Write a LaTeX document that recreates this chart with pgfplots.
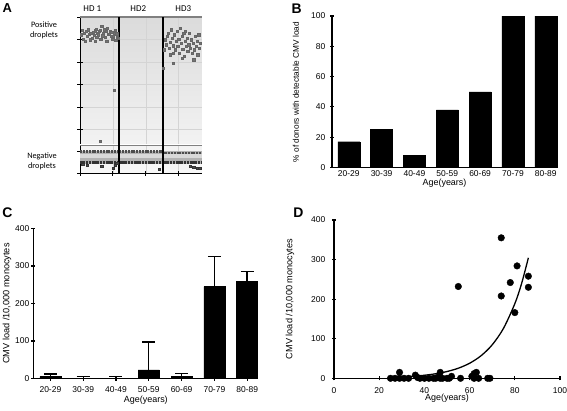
\documentclass[border=0pt]{standalone}
\usepackage{pgfplots}
\pgfplotsset{compat=1.18}
\usepackage{fontspec}
\setmainfont{Liberation Sans}
\newfontfamily\calib{Carlito}
\pgfplotsset{
  gp/.style={
    scale only axis, axis x line=bottom, axis y line=left,
    x axis line style={-, line width=1.4pt, black},
    y axis line style={-, line width=1.4pt, black},
    xticklabels={}, yticklabels={},
    major tick length=4bp, major tick style={line width=1.2pt, black},
    clip=false,
  },
}
\begin{document}
\begin{tikzpicture}
\useasboundingbox (0,0) rectangle (567bp,-411bp);
% ---------------- Panel A ----------------
\begin{axis}[at={(80bp,-173bp)}, anchor=south west, scale only axis,
  width=122bp, height=156bp, xmin=240, xmax=605, ymin=-520, ymax=-52,
  axis x line=bottom, axis y line=left,
  x axis line style={-, line width=0.8pt, black},
  y axis line style={-, line width=0.8pt, black},
  xtick={240,338,437,535}, ytick={-520,-455,-388,-322,-255,-187,-120,-52},
  xticklabels={}, yticklabels={},
  major tick length=5bp, major tick style={line width=0.8pt, black},
  grid=major, grid style={black!17, line width=0.5pt},
  axis background/.style={top color=black!14, bottom color=black!3},
  clip=false]
\addplot[black!50, line width=2bp] coordinates {(240,-52) (605,-52)};
\addplot[fill=black!30, draw=none] coordinates {(240,-455) (605,-455) (605,-492) (240,-492)} -- cycle;
\addplot[fill=black!15, draw=none] coordinates {(240,-462) (605,-462) (605,-475) (240,-475)} -- cycle;
\addplot[black!70, line width=2.4bp, dash pattern=on 2bp off 0.8bp] coordinates {(241,-456) (358,-456)};
\addplot[black!70, line width=2.4bp, dash pattern=on 2bp off 0.8bp] coordinates {(358,-455) (487,-455)};
\addplot[black!70, line width=2.4bp, dash pattern=on 2bp off 0.8bp] coordinates {(487,-460) (603,-460)};
\addplot[black!80, line width=2.6bp, dash pattern=on 2.2bp off 0.6bp] coordinates {(241,-488) (603,-488)};
\addplot[black!50, line width=2bp] coordinates {(240,-435) (605,-435)};
\addplot[white, line width=0.5bp] coordinates {(240,-435) (605,-435)};
\addplot[only marks, mark=square*, mark size=1.1bp, draw=black!60, fill=black!55] coordinates {
(246,-92) (250,-118) (253,-100) (258,-95) (262,-110) (265,-90) (268,-104) (272,-100)
(276,-115) (280,-97) (283,-106) (286,-93) (288,-88) (290,-112) (293,-100) (295,-105)
(298,-95) (300,-92) (302,-118) (305,-80) (308,-108) (310,-100) (313,-90) (316,-112)
(318,-95) (320,-125) (322,-86) (325,-103) (328,-104) (330,-94) (333,-110) (335,-98)
(338,-118) (340,-110) (342,-100) (345,-92) (347,-122) (350,-102) (352,-112) (354,-115)
(255,-125) (285,-125) (244,-105) (270,-120) (342,-272) (300,-425)
(492,-150) (495,-120) (498,-135) (502,-110) (505,-100) (508,-145) (510,-128) (513,-90)
(515,-115) (518,-160) (520,-138) (522,-105) (525,-150) (527,-125) (530,-95) (532,-140)
(535,-118) (537,-160) (540,-85) (542,-130) (545,-110) (547,-148) (550,-100) (552,-170)
(555,-125) (557,-140) (560,-115) (562,-155) (565,-135) (567,-100) (570,-145) (572,-120)
(575,-160) (578,-130) (580,-180) (582,-150) (585,-110) (587,-140) (590,-125) (592,-165)
(595,-105) (597,-145) (600,-130) (520,-190) (545,-175) (490,-205) (510,-165) (555,-95)
};
\addplot[only marks, mark=square*, mark size=1.1bp, draw=black!80, fill=black!70] coordinates {
(248,-493) (262,-496) (305,-500) (340,-505) (345,-496) (350,-490) (476,-508)
(570,-500) (580,-503) (590,-505) (598,-505)
};
\addplot[black, line width=2bp] coordinates {(358,-52) (358,-520)};
\addplot[black, line width=2bp] coordinates {(487,-52) (487,-520)};
\end{axis}
\node[font=\calib\fontsize{9}{10}\selectfont] at (92.3bp,-8.3bp) {HD 1};
\node[font=\calib\fontsize{9}{10}\selectfont] at (138.3bp,-8.3bp) {HD2};
\node[font=\calib\fontsize{9}{10}\selectfont] at (183.3bp,-8.3bp) {HD3};
\node[font=\calib\fontsize{8.3}{10.5}\selectfont, align=center] at (44bp,-30.5bp) {Positive\\droplets};
\node[font=\calib\fontsize{8.3}{10.5}\selectfont, align=center] at (42bp,-161.5bp) {Negative\\droplets};
\node[font=\fontsize{13}{14}\bfseries\selectfont] at (7.2bp,-8.5bp) {A};
% ---------------- Panel B ----------------
\begin{axis}[gp, at={(332bp,-167.5bp)}, anchor=south west,
  width=225bp, height=151.5bp, xmin=-0.51, xmax=6.34, ymin=0, ymax=100,
  xtick=\empty, ytick={0,20,40,60,80,100}]
\addplot[ybar, bar width=22bp, fill=black, draw=black] coordinates {(0,17) (1,25) (2,8) (3,38) (4,50) (5,100) (6,100)};
\end{axis}
\begin{scope}[every node/.style={font=\fontsize{8.5}{10}\selectfont, inner sep=0pt}]
\node at (348.8bp,-174bp) {20-29};
\node at (381.6bp,-174bp) {30-39};
\node at (414.4bp,-174bp) {40-49};
\node at (447.3bp,-174bp) {50-59};
\node at (480.1bp,-174bp) {60-69};
\node at (513.0bp,-174bp) {70-79};
\node at (545.8bp,-174bp) {80-89};
\node[anchor=east] at (325.5bp,-167.5bp) {0};
\node[anchor=east] at (325.5bp,-137.2bp) {20};
\node[anchor=east] at (325.5bp,-106.9bp) {40};
\node[anchor=east] at (325.5bp,-76.6bp) {60};
\node[anchor=east] at (325.5bp,-46.3bp) {80};
\node[anchor=east] at (325.5bp,-16bp) {100};
\node[font=\fontsize{9}{10}\selectfont] at (444.5bp,-183.5bp) {Age(years)};
\node[font=\fontsize{8.3}{10}\selectfont, rotate=90] at (296bp,-92bp) {\% of donors with detectable CMV load};
\end{scope}
\node[font=\fontsize{14}{14}\bfseries\selectfont] at (296.7bp,-9bp) {B};
% ---------------- Panel C ----------------
\begin{axis}[gp, at={(33.3bp,-378.5bp)}, anchor=south west,
  width=225bp, height=150bp, xmin=-0.52, xmax=6.34, ymin=0, ymax=400,
  xtick={0,1,2,3,4,5,6}, ytick={0,100,200,300,400}]
\addplot[ybar, bar width=21bp, fill=black, draw=black,
  error bars/.cd, y dir=plus, y explicit,
  error bar style={line width=1.3pt, black},
  error mark options={rotate=90, mark size=6.5bp, line width=1.3pt, black}]
  coordinates {(0,5) +- (0,7) (1,1) +- (0,5) (2,1) +- (0,5) (3,23) +- (0,74)
               (4,5) +- (0,8) (5,245) +- (0,80) (6,260) +- (0,25)};
\end{axis}
\begin{scope}[every node/.style={font=\fontsize{8.5}{10}\selectfont, inner sep=0pt}]
\node at (50.4bp,-390bp) {20-29};
\node at (83.2bp,-390bp) {30-39};
\node at (116.0bp,-390bp) {40-49};
\node at (148.8bp,-390bp) {50-59};
\node at (181.6bp,-390bp) {60-69};
\node at (214.4bp,-390bp) {70-79};
\node at (247.2bp,-390bp) {80-89};
\node[anchor=east] at (29.5bp,-378.5bp) {0};
\node[anchor=east] at (29.5bp,-341bp) {100};
\node[anchor=east] at (29.5bp,-303.5bp) {200};
\node[anchor=east] at (29.5bp,-266bp) {300};
\node[anchor=east] at (29.5bp,-228.5bp) {400};
\node[font=\fontsize{9}{10}\selectfont] at (145.8bp,-400bp) {Age(years)};
\node[font=\fontsize{9.2}{10}\selectfont, rotate=90] at (7bp,-303.5bp) {CMV load /10,000 monocytes};
\end{scope}
\node[font=\fontsize{14}{14}\bfseries\selectfont] at (7.5bp,-212.2bp) {C};
% ---------------- Panel D ----------------
\begin{axis}[gp, at={(334bp,-378.3bp)}, anchor=south west,
  width=226bp, height=158.3bp, xmin=0, xmax=100, ymin=0, ymax=400,
  xtick={0,20,40,60,80,100}, ytick={0,100,200,300,400}]
\addplot[only marks, mark=*, mark size=3.3bp, black] coordinates {
(74,355) (55,232) (74,208) (78,242) (80,166) (81,284) (86,258) (86,230)
(25,0) (27,0) (29,15) (29,0) (31,0) (33,0) (36,8) (37,2) (38,0) (40,0) (42,0)
(44,0) (45,0) (46,3) (47,15) (47,0) (48,0) (50,0) (51,0) (52,5) (56,0)
(61,5) (62,12) (62,0) (63,15) (64,0) (68,0) (69,0)
};
\addplot[smooth, line width=1.3pt, black] coordinates {
(25,2.3) (30,3.4) (35,5.1) (40,7.7) (45,11.5) (50,17.1) (55,25.5) (60,38.0)
(65,56.7) (70,84.6) (75,126.3) (80,188.4) (83,239.4) (86,304.4)
};
\end{axis}
\begin{scope}[every node/.style={font=\fontsize{8.5}{10}\selectfont, inner sep=0pt}]
\node at (334bp,-390.5bp) {0};
\node at (379.2bp,-390.5bp) {20};
\node at (424.4bp,-390.5bp) {40};
\node at (469.6bp,-390.5bp) {60};
\node at (514.8bp,-390.5bp) {80};
\node at (560bp,-390.5bp) {100};
\node[anchor=east] at (325.5bp,-378.3bp) {0};
\node[anchor=east] at (325.5bp,-338.7bp) {100};
\node[anchor=east] at (325.5bp,-299.2bp) {200};
\node[anchor=east] at (325.5bp,-259.6bp) {300};
\node[anchor=east] at (325.5bp,-220bp) {400};
\node[font=\fontsize{9}{10}\selectfont] at (447bp,-398.5bp) {Age(years)};
\node[font=\fontsize{9.2}{10}\selectfont, rotate=90] at (290bp,-299bp) {CMV load /10,000 monocytes};
\end{scope}
\node[font=\fontsize{14}{14}\bfseries\selectfont] at (298.3bp,-213bp) {D};
\end{tikzpicture}
\end{document}
